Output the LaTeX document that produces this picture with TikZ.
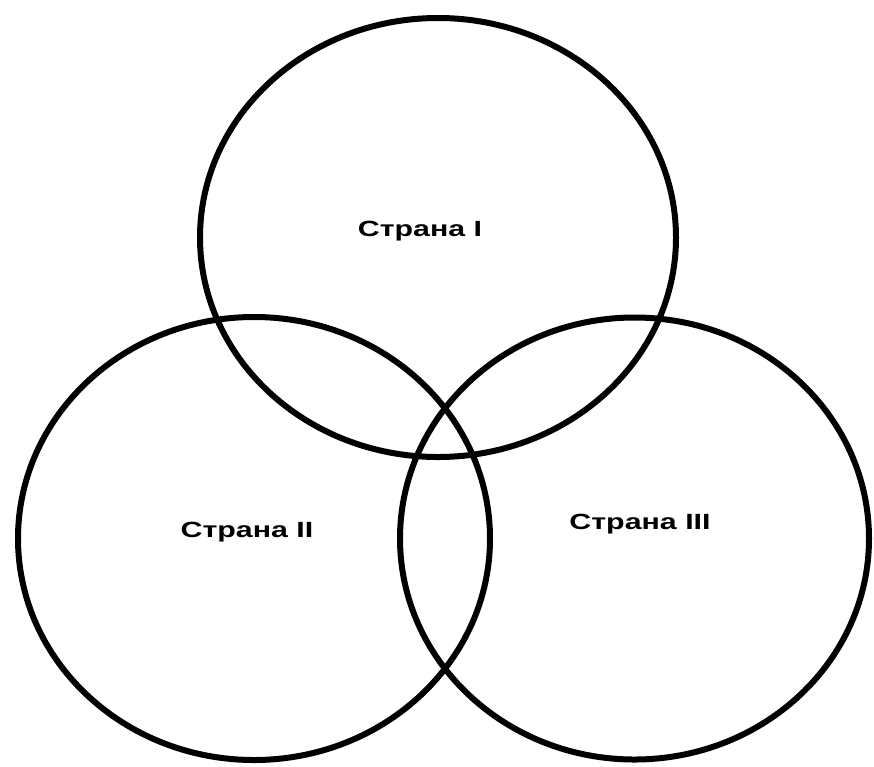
\documentclass[tikz,border=0pt]{standalone}
\usepackage{fontspec}
\setmainfont{Liberation Sans}
\begin{document}
\begin{tikzpicture}[x=1pt,y=-1pt,
  ring/.style={draw=black,line width=6pt},
  lbl/.style={anchor=base,inner sep=0pt,font=\fontsize{22}{22}\selectfont\bfseries}]
\useasboundingbox (0,0) rectangle (874,766);
\fill[white] (0,0) rectangle (874,766);
\draw[ring] (438,237.5) ellipse [x radius=238, y radius=219.5];
\draw[ring] (254,538.5) ellipse [x radius=236, y radius=221.5];
\draw[ring] (634.5,538.5) ellipse [x radius=234.5, y radius=221];
\node[lbl] (s1) at (420,236) {\scalebox{1.38}[1]{Страна I}};
\node[lbl] (s2) at (247,537) {\scalebox{1.38}[1]{Страна II}};
\node[lbl] (s3) at (640,529) {\scalebox{1.38}[1]{Страна III}};
\end{tikzpicture}
\end{document}
